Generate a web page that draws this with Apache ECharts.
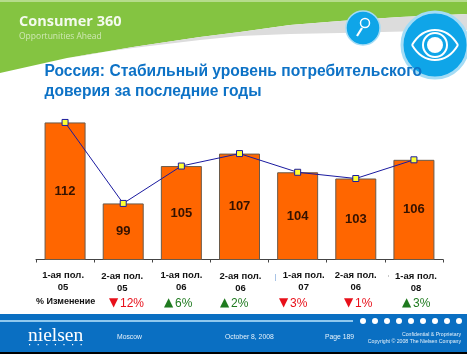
<!DOCTYPE html>
<html lang="ru">
<head>
<meta charset="UTF-8">
<title>Consumer 360</title>
<script src="https://cdn.jsdelivr.net/npm/echarts@6/dist/echarts.min.js"></script>
<style>
html,body{margin:0;padding:0;background:#fff}
#chart{width:467px;height:354px}
</style>
</head>
<body>
<div id="chart"></div>
<script>
var periods = ['1-ая пол.\n05','2-ая пол.\n05','1-ая пол.\n06','2-ая пол.\n06','1-ая пол.\n07','2-ая пол.\n06','1-ая пол.\n08'];
var values = [112,99,105,107,104,103,106];
var changeArrows = ['▼','▲','▲','▼','▼','▲'];
var changeLabels = ['12%','6%','2%','3%','1%','3%'];
var changeX = [110,165,221,280,345,403];
var labelNudge = [-2,-1,0,1,6,0,2];
var labelDrop = [0,1,0,1,0,0,1];

var font = 'Liberation Sans';
var blue = '#0a6fc2';
var graphics = [
  // шапка
  {type:'polygon',z:1,shape:{points:[[0,0],[467,0],[467,14],[400,17],[340,21],[290,25],[240,32],[200,37],[133,47],[67,58],[0,73]]},style:{fill:'#84c441'}},
  {type:'rect',z:1,shape:{x:0,y:0,width:467,height:2},style:{fill:'#b5dc8c'}},
  {type:'polygon',z:1,shape:{points:[[70,58],[133,47],[200,37],[240,32],[290,25],[340,21],[400,17],[467,14],[467,30],[340,33],[290,34],[240,36],[200,40],[133,48],[90,54]]},style:{fill:'#dcdcdc'}},
  {type:'text',z:3,style:{x:19,y:14,text:'Consumer 360',fill:'#f4faee',font:'bold 14.5px "Open Sans"'}},
  {type:'text',z:3,style:{x:19,y:32,text:'Opportunities Ahead',fill:'#cfe8b5',font:'8.5px "Open Sans"'}},
  {type:'circle',z:3,shape:{cx:363,cy:28,r:17},style:{fill:'#0fa5e8',stroke:'#a5dcf5',lineWidth:1.5}},
  {type:'line',z:4,shape:{x1:357,y1:36,x2:362,y2:28},style:{stroke:'#fff',lineWidth:2.2}},
  {type:'circle',z:4,shape:{cx:365,cy:23,r:4.5},style:{fill:'#0fa5e8',stroke:'#fff',lineWidth:1.5}},
  {type:'circle',z:3,shape:{cx:435,cy:45,r:33},style:{fill:'#0fa5e8',stroke:'#a5dcf5',lineWidth:3}},
  {type:'bezierCurve',z:4,shape:{x1:412,y1:45,x2:458,y2:45,cpx1:424,cpy1:25,cpx2:446,cpy2:25},style:{fill:'none',stroke:'#fff',lineWidth:2}},
  {type:'bezierCurve',z:4,shape:{x1:412,y1:45,x2:458,y2:45,cpx1:424,cpy1:65,cpx2:446,cpy2:65},style:{fill:'none',stroke:'#fff',lineWidth:2}},
  {type:'circle',z:4,shape:{cx:435,cy:45,r:12},style:{fill:'#0fa5e8',stroke:'#fff',lineWidth:2}},
  {type:'circle',z:4,shape:{cx:435,cy:45,r:8},style:{fill:'#fff'}},
  {type:'text',z:5,style:{x:44.5,y:64,text:'Россия: Стабильный уровень потребительского',fill:'#0d72c6',font:'bold 15.6px "Liberation Sans"'}},
  {type:'text',z:5,style:{x:44.5,y:84,text:'доверия за последние годы',fill:'#0d72c6',font:'bold 15.6px "Liberation Sans"'}},
  // подвал
  {type:'rect',z:1,shape:{x:0,y:314,width:467,height:38},style:{fill:blue}},
  {type:'rect',z:1,shape:{x:0,y:352,width:467,height:2},style:{fill:'#000'}},
  {type:'rect',z:2,shape:{x:0,y:320,width:353,height:2},style:{fill:'#8fc8ee'}},
  {type:'text',z:3,style:{x:28,y:326,text:'nielsen',fill:'#fff',font:'19.5px "Liberation Serif"'}},
  {type:'text',z:3,style:{x:117,y:334,text:'Moscow',fill:'#e6f2fb',font:'6.8px "Liberation Sans"'}},
  {type:'text',z:3,style:{x:225,y:334,text:'October 8, 2008',fill:'#e6f2fb',font:'6.8px "Liberation Sans"'}},
  {type:'text',z:3,style:{x:325,y:334,text:'Page 189',fill:'#e6f2fb',font:'6.8px "Liberation Sans"'}},
  {type:'text',z:3,style:{x:461,y:332,align:'right',text:'Confidential & Proprietary',fill:'#e6f2fb',font:'5.2px "Liberation Sans"'}},
  {type:'text',z:3,style:{x:461,y:339,align:'right',text:'Copyright © 2008 The Nielsen Company',fill:'#e6f2fb',font:'5.2px "Liberation Sans"'}},
  // % изменение
  {type:'text',z:3,style:{x:36,y:297,text:'% Изменение',fill:'#111',font:'bold 9px "Liberation Sans"'}},
  {type:'rect',z:3,shape:{x:275,y:274,width:1,height:7},style:{fill:'#a9c4e6'}},
  {type:'rect',z:3,shape:{x:388,y:275,width:1,height:2},style:{fill:'#c8c8c8'}}
];
for (var d = 0; d < 9; d++) {
  graphics.push({type:'circle',z:3,shape:{cx:363 + d * 12,cy:321,r:3},style:{fill:'#fff'}});
}
for (var n = 0; n < 7; n++) {
  graphics.push({type:'rect',z:3,shape:{x:29 + n * 8.6,y:344,width:1.2,height:1.2},style:{fill:'#fff'}});
}
changeLabels.forEach(function (c, i) {
  var col = changeArrows[i] == '▼' ? '#e8101a' : '#1f7a1f';
  graphics.push({type:'text',z:3,style:{x:changeX[i] - 1,y:297,text:changeArrows[i],fill:col,font:'12px "DejaVu Sans"'}});
  graphics.push({type:'text',z:3,style:{x:changeX[i] + 10,y:298,text:c,fill:col,font:'12px "Liberation Sans"'}});
});

var option = {
  animation: false,
  backgroundColor: '#fff',
  textStyle: {fontFamily: font},
  graphic: graphics,
  grid: {left: 36, right: 24, top: 103.75, height: 155.75},
  xAxis: {
    type: 'category',
    data: periods.map(function (p, i) {
      var nudge = labelNudge[i];
      return {value: p, textStyle: {padding: [labelDrop[i], nudge < 0 ? -nudge * 2 : 0, 0, nudge > 0 ? nudge * 2 : 0]}};
    }),
    axisLine: {lineStyle: {color: '#444', width: 1}},
    axisTick: {show: true, alignWithLabel: false, length: 3, lineStyle: {color: '#444'}},
    axisLabel: {color: '#111', fontSize: 9.5, fontWeight: 'bold', lineHeight: 12, margin: 10, interval: 0}
  },
  yAxis: {type: 'value', min: 90, max: 115, show: false},
  series: [
    {
      type: 'bar',
      data: values,
      barWidth: 41,
      itemStyle: {color: '#ff6600', borderColor: '#6a5a4a', borderWidth: 1},
      label: {show: true, position: 'inside', color: '#341200', fontSize: 13, fontWeight: 'bold'}
    },
    {
      type: 'line',
      data: values,
      symbol: 'rect',
      symbolSize: 6,
      lineStyle: {color: '#1a1aa0', width: 1},
      itemStyle: {color: '#ffff33', borderColor: '#1a1aa0', borderWidth: 1},
      label: {show: false}
    }
  ]
};
var chart = echarts.init(document.getElementById('chart'));
chart.setOption(option);
</script>
</body>
</html>
